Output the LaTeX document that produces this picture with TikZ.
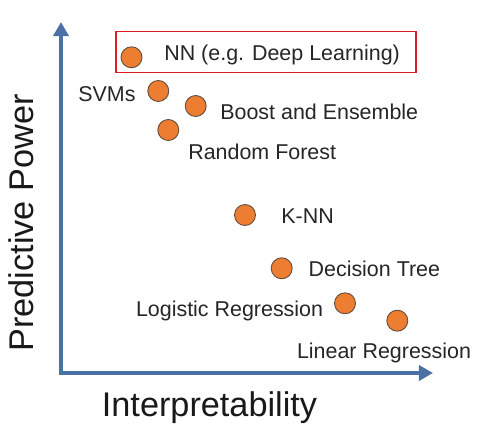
\documentclass[tikz,border=0pt]{standalone}
\usepackage{fontspec}
\setmainfont{Liberation Sans}
\usetikzlibrary{arrows.meta}

\definecolor{axisblue}{RGB}{74,112,166}
\definecolor{dotorange}{RGB}{237,125,49}
\definecolor{boxred}{RGB}{222,30,36}
\definecolor{txtgray}{RGB}{38,38,38}

\begin{document}
\begin{tikzpicture}[x=0.02cm, y=-0.02cm,
  dot/.style={circle, fill=dotorange, draw=gray!70!dotorange!60!black, line width=0.5pt, minimum size=0.42cm, inner sep=0pt},
  lbl/.style={anchor=base west, inner sep=0pt, text=txtgray, font=\fontsize{12.2}{14}\selectfont},
  big/.style={anchor=base, inner sep=0pt, text=black!90, font=\fontsize{19.5}{22}\selectfont},
  axis/.style={draw=axisblue, line width=2.5pt, {Triangle[length=8pt,width=8.5pt]}-{Triangle[length=8pt,width=8.5pt]}}]

  % Canvas
  \fill[white] (0,0) rectangle (491,432);
  \useasboundingbox (0,0) rectangle (491,432);

  % Axes
  \coordinate (O) at (61,373);
  \coordinate (Ytip) at (61,22);
  \coordinate (Xtip) at (433,373);
  \draw[axis] (Ytip) -- (O) -- (Xtip);

  \node[big, rotate=90] (ylab) at (33,223) {Predictive Power};
  \node[big] (xlab) at (209.5,416.7) {Interpretability};

  % Highlight box
  \node[draw=boxred, line width=0.9pt, minimum width=6cm, minimum height=0.82cm, inner sep=0pt] (hl) at (266,52) {};

  % Points
  \node[dot] (NN) at (131.5,57.3) {};
  \node[dot] (SVM) at (158.3,91) {};
  \node[dot] (Boost) at (195.7,106) {};
  \node[dot] (RF) at (168.3,130) {};
  \node[dot] (KNN) at (245,215) {};
  \node[dot] (DT) at (281.7,268.3) {};
  \node[dot] (LogR) at (345,303.3) {};
  \node[dot] (LinR) at (397.3,320.7) {};

  % Labels
  \node[lbl] (lNN) at (164,61) {NN (e.g. Deep Learning)};
  \node[lbl] (lSVM) at (78,101.7) {SVMs};
  \node[lbl] (lBoost) at (220,119.3) {Boost and Ensemble};
  \node[lbl] (lRF) at (188,160) {Random Forest};
  \node[lbl] (lKNN) at (281,223.3) {K-NN};
  \node[lbl] (lDT) at (308.3,276.7) {Decision Tree};
  \node[lbl] (lLogR) at (135.7,316.7) {Logistic Regression};
  \node[lbl] (lLinR) at (296.7,358.3) {Linear Regression};

\end{tikzpicture}
\end{document}
